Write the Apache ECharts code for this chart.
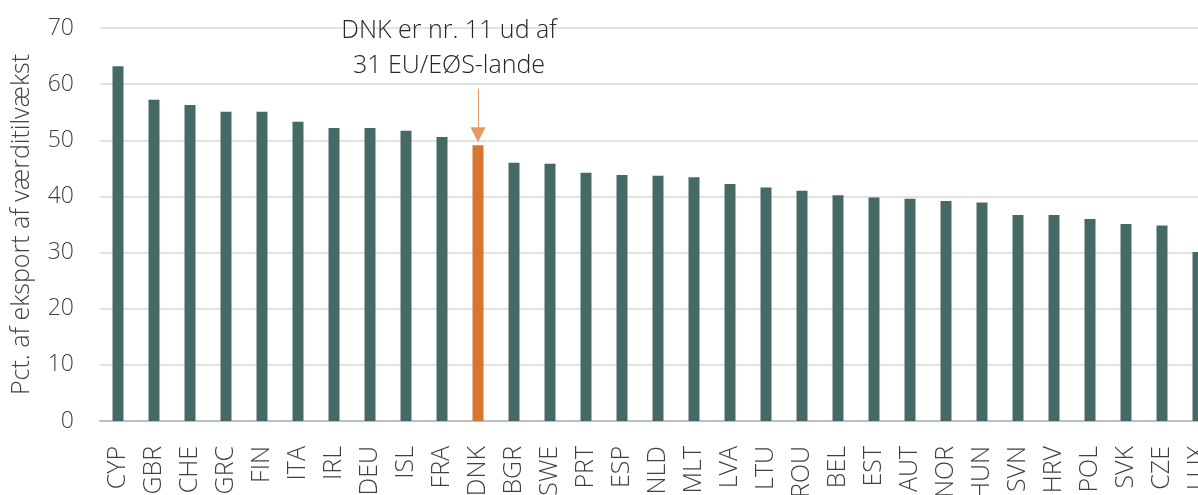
<!DOCTYPE html>
<html>
<head>
<meta charset="utf-8">
<script src="https://cdn.jsdelivr.net/npm/echarts@6/dist/echarts.min.js"></script>
<style>html,body{margin:0;padding:0;background:#fff;}#c{width:1198px;height:495px;}</style>
</head>
<body>
<div id="c"></div>
<script>
const categories = ["CYP","GBR","CHE","GRC","FIN","ITA","IRL","DEU","ISL","FRA","DNK","BGR","SWE","PRT","ESP","NLD","MLT","LVA","LTU","ROU","BEL","EST","AUT","NOR","HUN","SVN","HRV","POL","SVK","CZE","LUX"];
const values = [63.2,57.2,56.3,55.1,55.1,53.3,52.2,52.2,51.7,50.6,49.1,46.0,45.8,44.2,43.8,43.7,43.4,42.2,41.6,41.0,40.2,39.8,39.6,39.2,38.9,36.7,36.7,36.0,35.1,34.8,30.1];
const yTicks = [0,10,20,30,40,50,60,70];
const highlight = "DNK";
const annotationLines = ["DNK er nr. 11 ud af", "31 EU/EØS-lande"];
const yAxisName = "Pct. af eksport af værditilvækst";

const FONT = "'Open Sans', 'Noto Sans', sans-serif";
const chart = echarts.init(document.getElementById('c'));
chart.setOption({
  animation: false,
  textStyle: { fontFamily: FONT },
  grid: { left: 100, right: -18, top: 28, bottom: 74, containLabel: false, outerBoundsMode: 'none' },
  xAxis: {
    type: 'category',
    data: categories,
    axisTick: { show: false },
    axisLine: { lineStyle: { color: '#bfbfbf', width: 2 } },
    axisLabel: { rotate: 90, fontSize: 25, color: '#404040', margin: 25, fontFamily: FONT, fontWeight: 300, interval: 0 }
  },
  yAxis: {
    type: 'value',
    min: yTicks[0], max: yTicks[yTicks.length - 1], interval: 10,
    name: yAxisName,
    nameLocation: 'middle',
    nameGap: 66,
    nameTextStyle: { fontSize: 25, color: '#404040', fontFamily: FONT, fontWeight: 300 },
    axisLine: { show: false },
    axisTick: { show: false },
    axisLabel: { fontSize: 23, color: '#404040', margin: 26, fontFamily: FONT, fontWeight: 300 },
    splitLine: { lineStyle: { color: '#d9d9d9', width: 1.5 } }
  },
  series: [{
    type: 'bar',
    barWidth: 11,
    data: categories.map((c, i) => ({
      value: values[i],
      itemStyle: { color: c === highlight ? '#D5772E' : '#466965' }
    })),
    markLine: {
      silent: true,
      symbol: ['none', 'triangle'],
      symbolSize: [15, 15],
      lineStyle: { color: '#E39A62', width: 1, type: 'solid' },
      itemStyle: { color: '#D5772E' },
      label: { show: false },
      data: [[{ coord: [highlight, 59.2] }, { coord: [highlight, 51.0], symbol: 'triangle', itemStyle: { color: '#D5772E' }, lineStyle: { color: '#E39A62' } }]]
    },
    markPoint: {
      silent: true,
      symbol: 'circle',
      symbolSize: 1,
      itemStyle: { color: 'rgba(0,0,0,0)' },
      data: [{
        coord: [highlight, 66.3],
        label: {
          show: true,
          position: 'inside',
          formatter: annotationLines.join('\n'),
          fontSize: 25,
          lineHeight: 35,
          color: '#262626',
          fontFamily: FONT,
          fontWeight: 300,
          align: 'center',
          verticalAlign: 'middle',
          offset: [-29, 0]
        }
      }]
    }
  }]
});
</script>
</body>
</html>
